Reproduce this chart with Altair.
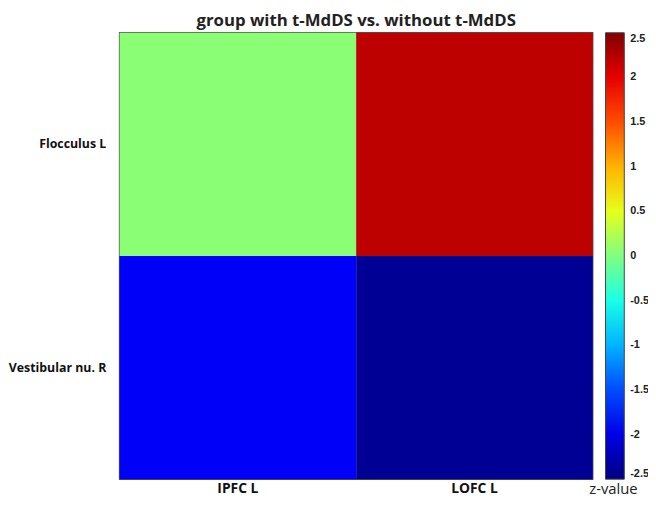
import altair as alt
import pandas as pd

rows = ["Flocculus L", "Flocculus L", "Vestibular nu. R", "Vestibular nu. R"]
cols = ["IPFC L", "LOFC L", "IPFC L", "LOFC L"]
zvals = [0.05, 2.2, -1.9, -2.4]

row_order = ["Flocculus L", "Vestibular nu. R"]
col_order = ["IPFC L", "LOFC L"]
legend_ticks = [2.5, 2, 1.5, 1, 0.5, 0, -0.5, -1, -1.5, -2, -2.5]
colorbar_title = ["z-value"]

jet_domain = [-2.5, -1.875, -0.625, 0.625, 1.875, 2.5]
jet_range = ["#000080", "#0000ff", "#00ffff", "#ffff00", "#ff0000", "#800000"]

df = pd.DataFrame({"row": rows, "col": cols, "z": zvals})

heat = alt.Chart(df).mark_rect().encode(
    x=alt.X("col:N", sort=col_order, title=None,
            axis=alt.Axis(labelAngle=0, labelFont="Open Sans", labelFontSize=14,
                          labelFontWeight="bold", labelColor="#111", ticks=False,
                          domain=False, labelPadding=2)),
    y=alt.Y("row:N", sort=row_order, title=None,
            axis=alt.Axis(labelFont="Open Sans", labelFontSize=12.5,
                          labelFontWeight="bold", labelColor="#111", ticks=False,
                          domain=False, labelPadding=14)),
    color=alt.Color("z:Q",
                    scale=alt.Scale(domain=jet_domain, range=jet_range, interpolate="rgb"),
                    legend=alt.Legend(title=None, orient="right", direction="vertical",
                                      offset=13, gradientLength=452, gradientThickness=19,
                                      gradientStrokeColor="#444", gradientStrokeWidth=1,
                                      values=legend_ticks, format=".1~f",
                                      labelExpr="replace(datum.label, '\u2212', '-')",
                                      labelFont="Liberation Sans", labelFontSize=11,
                                      labelFontWeight="bold", labelColor="#222",
                                      labelOffset=6)),
)

zlabel = alt.Chart(pd.DataFrame({"t": colorbar_title})).mark_text(
    font="Open Sans", fontSize=15, color="#222", align="center", baseline="alphabetic"
).encode(text="t:N", x=alt.value(500), y=alt.value(467))

chart = alt.layer(heat, zlabel).properties(
    width=479,
    height=452,
    title=alt.TitleParams("group with t-MdDS vs. without t-MdDS", font="Open Sans",
                          fontSize=17, fontWeight="bold", color="#222",
                          anchor="middle", offset=3),
    autosize=alt.AutoSizeParams(type="none"),
    padding={"left": 113, "top": 22, "right": 56, "bottom": 17},
).configure_view(
    stroke="#555", strokeWidth=1.5
).configure_scale(bandPaddingInner=0, bandPaddingOuter=0)

chart.save("out.html", embed_options={"renderer": "svg", "actions": False})
